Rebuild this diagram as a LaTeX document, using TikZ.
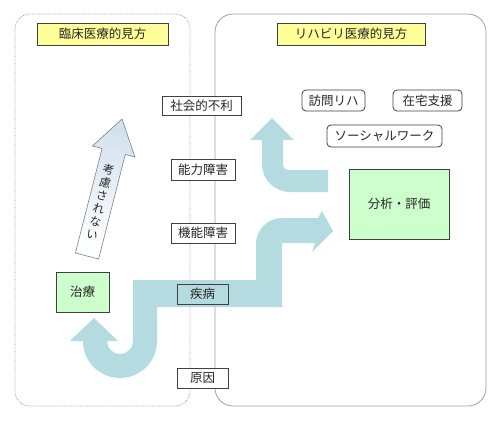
\documentclass[tikz,border=0pt]{standalone}
\usepackage{fontspec}
\setmainfont{Noto Sans CJK JP}
\definecolor{flow}{RGB}{180,219,224}
\definecolor{titlefill}{RGB}{255,255,153}
\definecolor{greenfill}{RGB}{204,255,204}
\definecolor{bordergray}{RGB}{64,64,64}
\definecolor{panelgray}{RGB}{160,160,160}
\definecolor{arrowblue}{RGB}{210,225,238}
\tikzset{
  base/.style={font=\fontsize{12.5}{14}\selectfont, text=black!85, inner sep=0pt},
  titlebox/.style={base, draw=bordergray, fill=titlefill, line width=0.8pt},
  levelbox/.style={base, draw=bordergray, fill=white, line width=0.8pt},
  greenbox/.style={base, draw=bordergray, fill=greenfill, line width=0.8pt},
  roundbox/.style={base, draw=bordergray, fill=white, line width=0.8pt, rounded corners=4pt},
}
\begin{document}
\begin{tikzpicture}[x=1pt,y=-1pt]
\useasboundingbox (0,0) rectangle (500,421);
% panels
\draw[panelgray, densely dotted, line width=0.8pt, rounded corners=15pt] (15,14) rectangle (190,406);
\draw[panelgray, line width=0.8pt, rounded corners=18pt] (215,14) rectangle (486,406);

% lower big flow arrow (cause -> treatment, and -> analysis)
\fill[flow] (94,318) -- (118,341) -- (107,341)
  arc[start angle=180, end angle=360, radius=13pt]
  -- (133,280) -- (256,280) -- (256,244)
  arc[start angle=180, end angle=90, radius=26pt]
  -- (318,218) -- (322,211) -- (333,231) -- (312,252) -- (315,243)
  -- (282,243) -- (282,307) -- (157,307) -- (157,341)
  arc[start angle=0, end angle=-180, radius=37pt]
  -- (70,341) -- cycle;

% upper flow arrow (analysis -> up)
\fill[flow] (272,118) -- (294,140) -- (283,140) -- (283,165)
  arc[start angle=180, end angle=270, radius=5pt]
  -- (328,170) -- (328,192) -- (290,192)
  arc[start angle=270, end angle=180, radius=28pt]
  -- (262,140) -- (250,140) -- cycle;

% "not considered" arrow
\path[draw=gray, line width=0.6pt, top color=arrowblue, bottom color=white, shading angle=-14]
  (75.4,253) -- (102.1,148.4) -- (92.4,146) -- (122,119) -- (134.9,156.9)
  -- (125.3,154.4) -- (98.6,259) -- cycle;
\node[base, rotate=-14, align=center, font=\fontsize{11.5}{13.3}\selectfont] (nc) at (100.5,202) {考\\慮\\さ\\れ\\な\\い};

% titles
\node[titlebox, minimum width=131pt, minimum height=22pt] (tl) at (102.5,34) {臨床医療的見方};
\node[titlebox, minimum width=148pt, minimum height=22pt] (tr) at (351,34) {リハビリ医療的見方};

% levels
\node[levelbox, minimum width=79pt, minimum height=19pt] (l1) at (201.5,105.5) {社会的不利};
\node[levelbox, minimum width=64pt, minimum height=21pt] (l2) at (203,169.5) {能力障害};
\node[levelbox, minimum width=64pt, minimum height=20pt] (l3) at (203,233) {機能障害};
\node[levelbox, fill=flow, minimum width=51pt, minimum height=20pt] (l4) at (202.5,294) {疾病};
\node[levelbox, minimum width=51pt, minimum height=20pt] (l5) at (202.5,378) {原因};

% green boxes
\node[greenbox, minimum width=53pt, minimum height=40pt] (tr1) at (82.5,292) {治療};
\node[greenbox, minimum width=100pt, minimum height=70pt] (an) at (399,204) {分析・評価};

% rounded boxes
\node[roundbox, minimum width=63pt, minimum height=21pt] (r1) at (333.5,100.5) {訪問リハ};
\node[roundbox, minimum width=69pt, minimum height=21pt] (r2) at (427.5,100.5) {在宅支援};
\node[roundbox, minimum width=115pt, minimum height=22pt] (r3) at (384.5,136) {ソーシャルワーク};
\end{tikzpicture}
\end{document}
